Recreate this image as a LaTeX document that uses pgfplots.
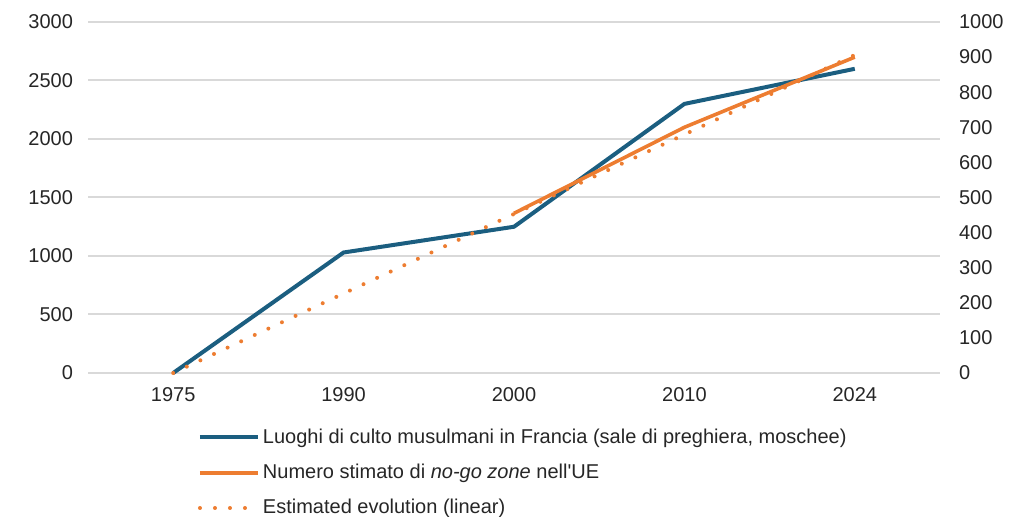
\documentclass[border=0pt]{standalone}
\usepackage{pgfplots}
\pgfplotsset{compat=1.18}
\usepackage{fontspec}
\setmainfont{Liberation Sans}
\definecolor{cblue}{HTML}{1B5E80}
\definecolor{corange}{HTML}{ED7D31}
\definecolor{cgrid}{HTML}{D9D9D9}
\definecolor{ctext}{HTML}{262626}
\begin{document}
\begin{tikzpicture}
\path[use as bounding box] (0,0) rectangle (515bp,258.5bp);
\pgfplotsset{
 base/.style={scale only axis, width=426bp, height=175.5bp, at={(44bp,72bp)}, anchor=south west,
   xmin=-0.5, xmax=4.5, axis line style={draw=none}, major tick length=0pt,
   tick label style={font=\fontsize{10bp}{12bp}\selectfont, text=ctext},
   /pgf/number format/assume math mode=true, /pgf/number format/set thousands separator={},
   clip=false}
}
\begin{axis}[base, ymin=0, ymax=3000, ytick={0,500,...,3000}, ymajorgrids,
  grid style={cgrid, line width=1bp},
  xtick={0,...,4}, xticklabels={1975,1990,2000,2010,2024},
  yticklabel style={anchor=east, xshift=-4bp}, xticklabel style={yshift=-3.5bp}]
\addplot[cblue, line width=2bp, forget plot] coordinates {(0,0)(1,1030)(2,1250)(3,2300)(4,2600)};
\end{axis}
\begin{axis}[base, ymin=0, ymax=1000, ytick={0,100,...,1000}, xtick=\empty,
  ytick pos=right, yticklabel pos=right,
  yticklabel style={anchor=west, xshift=6bp},
  legend style={at={(0.1216,-0.135)}, anchor=north west, draw=none, fill=none,
    font=\fontsize{10bp}{12bp}\selectfont, text=ctext, row sep=4.9bp,
    nodes={inner xsep=1.5bp}},
  legend cell align=left,
  legend image code/.code={\draw[#1] (0bp,0bp) -- (29bp,0bp);}]
\addplot[corange, line width=2bp, line cap=round, dash pattern=on 0bp off 7.5bp, forget plot]
  coordinates {(0,0)(1,226.5)(2,453)(3,679.5)(4,906)};
\addplot[corange, line width=1.8bp, forget plot] coordinates {(2,455)(3,700)(4,900)};
\addlegendimage{cblue, line width=2bp}
\addlegendentry{Luoghi di culto musulmani in Francia (sale di preghiera, moschee)}
\addlegendimage{corange, line width=1.8bp}
\addlegendentry{Numero stimato di \textit{no-go zone} nell\textquotesingle UE}
\addlegendimage{corange, line width=2bp, line cap=round, dash pattern=on 0bp off 7.5bp}
\addlegendentry{Estimated evolution (linear)}
\end{axis}
\end{tikzpicture}
\end{document}
